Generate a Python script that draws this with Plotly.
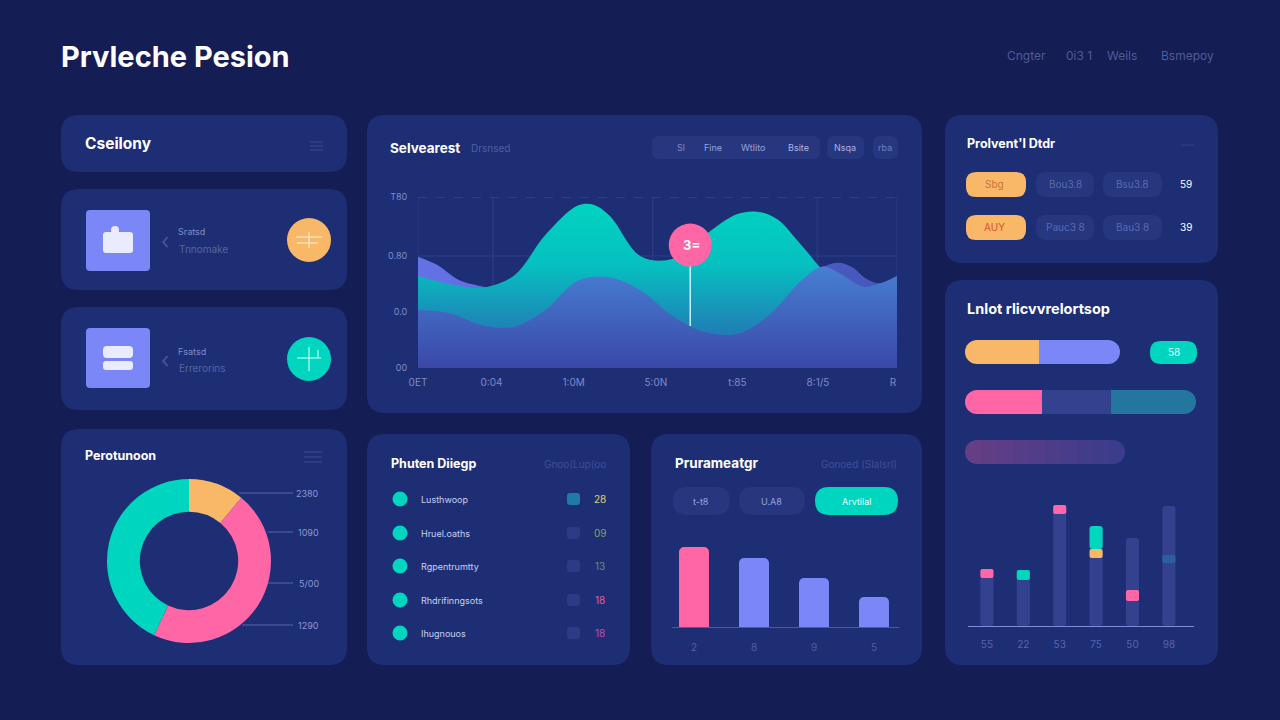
import plotly.graph_objects as go

W = 1280
H = 720

# main area chart
area_t = [0, 0.4, 0.8, 1.2, 1.6, 2.0, 2.2, 2.4, 2.8, 3.2, 3.6, 4.0, 4.25, 4.5, 4.8, 5.2, 5.6, 6]
teal_vals = [53.8, 49, 47, 54, 78, 95, 95.5, 89, 65, 64, 78, 90, 91.4, 87, 72, 51, 40, 34]
front_t = [0, 0.4, 0.8, 1.2, 1.6, 2.0, 2.4, 2.8, 3.2, 3.6, 4.0, 4.4, 4.8, 5.07, 5.3, 5.57, 5.79, 6]
front_vals = [33.9, 32, 25, 24, 34, 51, 53, 45, 30, 21, 20, 31, 51, 59.3, 54.8, 47.6, 49.5, 53.8]
back_t = [0, 0.243, 0.51, 0.87, 1.5, 3, 4.5, 4.94, 5.25, 5.43, 5.61, 5.79, 6]
back_vals = [65.1, 60.2, 51.5, 47, 40, 40, 45, 56.3, 61.6, 59.2, 52.4, 49.5, 53.8]
pin_t = 3.41
pin_top = 71.9
pin_bottom = 24.6
area_xticks = [0, 0.92, 1.95, 2.98, 4, 5.01, 5.95]
area_xlabels = ["0ET", "0:04", "1:0M", "5:0N", "t:85", "8:1/5", "R"]
area_yticks = [0, 32.7, 65.5, 100]
area_ylabels = ["00", "0.0", "0.80", "T80"]
area_grid_t = [0, 0.94, 2.94, 5, 6]

# donut
donut_labels = ["Amber", "Pink", "Teal"]
donut_vals = [11, 46, 43]
donut_notes = ["2380", "1090", "5/00", "1290"]

# parameter bars
param_x = [0, 1, 2, 3]
param_vals = [80, 69, 49, 30]
param_labels = ["2", "8", "9", "5"]

# lower right bars
track_x = [0, 1, 2, 3, 4, 5]
track_vals = [57, 56, 121, 100, 88, 120]
chip_base = [48, 46, 112, 68, 25, 63]
chip_vals = [9, 10, 9, 9, 11, 8]
chip2_x = [3]
chip2_base = [77]
chip2_vals = [23]
track_labels = ["55", "22", "53", "75", "50", "98"]

# stacked pills
pill_rows = [12, 62, 112]
pill_segments = [[74, 81], [77, 69, 85], [16, 16, 16, 16, 16, 16, 16, 16, 16, 16]]

# list panel
list_names = ["Lusthwoop", "Hruel.oaths", "Rgpentrumtty", "Rhdrifinngsots", "Ihugnouos"]
list_nums = ["28", "09", "13", "18", "18"]

BG = "#141d54"
PANEL = "#1e2e75"
CHIP = "#27377f"
TEAL = "#00d5c0"
PINK = "#ff66a5"
AMBER = "#f9b868"
PERI = "#7c87f7"
NAVY = "#33418f"
FAINT = "#6f7cc0"
DIM = "#505f9f"
FONT = "Inter"


def fx(x):
    return x / W


def fy(y):
    return 1 - y / H


def rounded(x0, y0, x1, y1, r, color, line=None):
    p = "M %f %f " % (fx(x0 + r), fy(y0))
    p += "L %f %f Q %f %f %f %f " % (fx(x1 - r), fy(y0), fx(x1), fy(y0), fx(x1), fy(y0 + r))
    p += "L %f %f Q %f %f %f %f " % (fx(x1), fy(y1 - r), fx(x1), fy(y1), fx(x1 - r), fy(y1))
    p += "L %f %f Q %f %f %f %f " % (fx(x0 + r), fy(y1), fx(x0), fy(y1), fx(x0), fy(y1 - r))
    p += "L %f %f Q %f %f %f %f Z" % (fx(x0), fy(y0 + r), fx(x0), fy(y0), fx(x0 + r), fy(y0))
    return dict(type="path", xref="paper", yref="paper", path=p, fillcolor=color,
                line=dict(width=0), layer="below")


def circle(cx, cy, r, color):
    return dict(type="circle", xref="paper", yref="paper", x0=fx(cx - r), x1=fx(cx + r),
                y0=fy(cy + r), y1=fy(cy - r), fillcolor=color, line=dict(width=0), layer="below")


def seg(x0, y0, x1, y1, color, width=1):
    return dict(type="line", xref="paper", yref="paper", x0=fx(x0), x1=fx(x1), y0=fy(y0), y1=fy(y1),
                line=dict(color=color, width=width), layer="below")


def txt(x, y, s, size=10, color=FAINT, anchor="left", bold=False):
    # annotations carry a small padding, take it back so x is the real text edge
    if anchor == "left":
        x -= 2
    elif anchor == "right":
        x += 2
    return dict(xref="paper", yref="paper", x=fx(x), y=fy(y), text="<b>%s</b>" % s if bold else s,
                showarrow=False, xanchor=anchor, yanchor="middle",
                font=dict(family=FONT, size=size, color=color))


shapes = []
notes = []

# panels
for box in [(61, 115, 347, 172), (61, 189, 347, 290), (61, 307, 347, 410), (61, 429, 347, 665),
            (367, 115, 922, 413), (367, 434, 630, 665), (651, 434, 922, 665),
            (945, 115, 1218, 263), (945, 280, 1218, 665)]:
    shapes.append(rounded(*box, 18, PANEL))

# header
notes.append(txt(61, 57, "Prvleche Pesion", 29, "#ffffff", bold=True))
for x, s in [(1007, "Cngter"), (1066, "0i3 1"), (1107, "Weils"), (1161, "Bsmepoy")]:
    notes.append(txt(x, 56, s, 12, "#4f5c96"))

# left column
notes.append(txt(85, 144, "Cseilony", 15.5, "#ffffff", bold=True))
shapes.append(seg(310, 142, 323, 142, "#3a4a94"))
shapes.append(seg(310, 146, 323, 146, "#3a4a94"))
shapes.append(seg(310, 150, 323, 150, "#3a4a94"))

shapes.append(rounded(86, 210, 150, 271, 4, PERI))
shapes.append(rounded(103, 232, 133, 253, 3, "#e9ecff"))
shapes.append(circle(115, 230, 4, "#e9ecff"))
shapes.append(circle(309, 240, 22, AMBER))
shapes.append(seg(296, 237, 322, 237, "#fff3dd"))
shapes.append(seg(297, 243, 318, 243, "#fff3dd"))
shapes.append(seg(309, 232, 309, 248, "#fff3dd"))
notes.append(txt(178, 232, "Sratsd", 9, "#7f8bc8"))
notes.append(txt(179, 249, "Tnnomake", 10, "#56659f"))
notes.append(txt(161, 241, "&#8249;", 22, "#44539c"))

shapes.append(rounded(86, 328, 150, 388, 4, PERI))
shapes.append(rounded(103, 346, 133, 358, 4, "#e9ecff"))
shapes.append(rounded(103, 361, 133, 370, 3, "#e9ecff"))
shapes.append(circle(309, 359, 22, TEAL))
shapes.append(seg(297, 358, 321, 358, "#e6fffb"))
shapes.append(seg(309, 347, 309, 371, "#e6fffb"))
shapes.append(seg(318, 350, 318, 358, "#e6fffb"))
notes.append(txt(178, 351, "Fsatsd", 9, "#7f8bc8"))
notes.append(txt(179, 368, "Errerorins", 10, "#56659f"))
notes.append(txt(161, 360, "&#8249;", 22, "#44539c"))

# donut panel
notes.append(txt(85, 455, "Perotunoon", 12.5, "#ffffff", bold=True))
for yy in [452, 457, 462]:
    shapes.append(seg(304, yy, 322, yy, "#33428c", 1.5))
for (x0, yy), s in zip([(239, 493), (268, 532), (268, 583), (242, 625)], donut_notes):
    shapes.append(seg(x0, yy, 293, yy, "#5664ae"))
    notes.append(txt(319, yy, s, 9, "#8b97d4", "right"))

# main panel head
notes.append(txt(390, 148, "Selvearest", 13.5, "#ffffff", bold=True))
notes.append(txt(471, 148, "Drsnsed", 10, DIM))
shapes.append(rounded(652, 136, 820, 159, 7, CHIP))
shapes.append(rounded(827, 136, 864, 159, 7, CHIP))
shapes.append(rounded(873, 136, 898, 159, 7, CHIP))
for x, s, c in [(681, "Sl", "#7f8bc8"), (713, "Fine", "#98a3dc"), (753, "Wtlito", "#98a3dc"),
                (798, "Bsite", "#aab3e6"), (845, "Nsqa", "#aab3e6"), (885, "rba", "#6f7cc0")]:
    notes.append(txt(x, 148, s, 9, c, "center"))
notes.append(txt(691, 245, "3=", 13, "#ffffff", "center", True))

# list panel
notes.append(txt(391, 463, "Phuten Diiegp", 12.5, "#ffffff", bold=True))
notes.append(txt(606, 464, "Gnoo(Lup(oo", 10, "#3f4f96", "right"))
num_colors = ["#e8cf70", "#8d9a62", "#5f8f78", "#e0609a", "#c050a8"]
for i, yy in enumerate([499, 533, 566, 600, 633]):
    shapes.append(circle(400, yy, 7.5, TEAL))
    shapes.append(rounded(567, yy - 6, 580, yy + 6, 3, "#1f7aa5" if i == 0 else "#2b3b85"))
    notes.append(txt(421, yy, list_names[i], 9, "#c9d0f2"))
    notes.append(txt(600, yy, list_nums[i], 10, num_colors[i], "center"))

# parameter panel
notes.append(txt(675, 463, "Prurameatgr", 13.5, "#ffffff", bold=True))
notes.append(txt(897, 464, "Gonoed (Slalsrl)", 10, "#3f4f96", "right"))
shapes.append(rounded(673, 487, 730, 515, 14, CHIP))
shapes.append(rounded(739, 487, 805, 515, 14, CHIP))
shapes.append(rounded(815, 487, 898, 515, 14, TEAL))
notes.append(txt(701, 501, "t-t8", 9, "#98a3dc", "center"))
notes.append(txt(771, 501, "U.A8", 9, "#98a3dc", "center"))
notes.append(txt(856, 501, "Arvtilal", 9, "#e8fffb", "center"))

# right top panel
notes.append(txt(967, 144, "Prolvent'l Dtdr", 12.5, "#ffffff", bold=True))
shapes.append(seg(1181, 145, 1194, 145, "#33428c"))
for yy, first, fc, a, b, val in [(184, "Sbg", "#c2763e", "Bou3.8", "Bsu3.8", "59"),
                                 (227, "AUY", "#d9502e", "Pauc3 8", "Bau3 8", "39")]:
    shapes.append(rounded(966, yy - 12, 1026, yy + 13, 10, AMBER))
    shapes.append(rounded(1036, yy - 12, 1094, yy + 13, 10, CHIP))
    shapes.append(rounded(1103, yy - 12, 1162, yy + 13, 10, CHIP))
    notes.append(txt(994, yy, first, 10, fc, "center"))
    notes.append(txt(1065, yy, a, 10, "#5a69ae", "center"))
    notes.append(txt(1132, yy, b, 10, "#5a69ae", "center"))
    notes.append(txt(1186, yy, val, 10, "#ffffff", "center"))

# right lower panel
notes.append(txt(967, 308, "Lnlot rlicvvrelortsop", 14.5, "#ffffff", bold=True))
shapes.append(rounded(1150, 341, 1197, 364, 11, TEAL))
notes.append(txt(1174, 352, "58", 10, "#e8fffb", "center"))

# grid of main chart
for t in area_grid_t:
    shapes.append(dict(type="line", xref="x", yref="y", x0=t, x1=t, y0=0, y1=100,
                       line=dict(color="#2f3e88", width=1), layer="below"))
shapes.append(dict(type="line", xref="x", yref="y", x0=0, x1=6, y0=100, y1=100,
                   line=dict(color="#3f4f9c", width=1, dash="dash"), layer="below"))
shapes.append(dict(type="line", xref="x", yref="y", x0=0, x1=6, y0=65.5, y1=65.5,
                   line=dict(color="#2f3e88", width=1), layer="below"))

fig = go.Figure()

fig.add_trace(go.Scatter(x=back_t, y=back_vals, mode="lines", fill="tozeroy",
                         line=dict(shape="spline", smoothing=1, width=0),
                         fillgradient=dict(type="horizontal", colorscale=[[0, "#6572e6"], [1, "#4655bb"]]),
                         hoverinfo="skip", xaxis="x", yaxis="y"))
fig.add_trace(go.Scatter(x=area_t, y=teal_vals, mode="lines", fill="tozeroy",
                         line=dict(shape="spline", smoothing=1, width=0),
                         fillgradient=dict(type="vertical", start=0, stop=100,
                                           colorscale=[[0, "#2a5fb0"], [0.3, "#1a8db8"], [0.6, "#06c0c0"], [1, TEAL]]),
                         hoverinfo="skip", xaxis="x", yaxis="y"))
fig.add_trace(go.Scatter(x=front_t, y=front_vals, mode="lines", fill="tozeroy",
                         line=dict(shape="spline", smoothing=1, width=0),
                         fillgradient=dict(type="vertical", start=0, stop=60,
                                           colorscale=[[0, "#3a48a8"], [1, "#4780d2"]]),
                         hoverinfo="skip", xaxis="x", yaxis="y"))
fig.add_trace(go.Scatter(x=[pin_t, pin_t], y=[pin_top, pin_bottom], mode="lines",
                         line=dict(color="#c8f2f6", width=1.5), hoverinfo="skip", xaxis="x", yaxis="y"))
fig.add_trace(go.Scatter(x=[pin_t], y=[pin_top], mode="markers",
                         marker=dict(size=43, color=PINK), hoverinfo="skip", xaxis="x", yaxis="y"))

fig.add_trace(go.Pie(labels=donut_labels, values=donut_vals, hole=0.6, sort=False, direction="clockwise",
                     rotation=0, textinfo="none", hoverinfo="skip",
                     marker=dict(colors=[AMBER, PINK, TEAL], line=dict(width=0)),
                     domain=dict(x=[fx(107), fx(271)], y=[fy(643), fy(479)])))

fig.add_trace(go.Bar(x=param_x, y=param_vals, width=0.5, hoverinfo="skip",
                     marker=dict(color=[PINK, PERI, PERI, PERI], cornerradius=5, line=dict(width=0)),
                     xaxis="x2", yaxis="y2"))

fig.add_trace(go.Bar(x=track_x, y=track_vals, width=0.36, base=0, hoverinfo="skip",
                     marker=dict(color=NAVY, cornerradius=3, line=dict(width=0)), xaxis="x3", yaxis="y3"))
fig.add_trace(go.Bar(x=track_x, y=chip_vals, base=chip_base, width=0.36, hoverinfo="skip",
                     marker=dict(color=[PINK, TEAL, PINK, AMBER, PINK, "#2b5f9f"], cornerradius=2, line=dict(width=0)),
                     xaxis="x3", yaxis="y3"))
fig.add_trace(go.Bar(x=chip2_x, y=chip2_vals, base=chip2_base, width=0.36, hoverinfo="skip",
                     marker=dict(color=TEAL, cornerradius=3, line=dict(width=0)), xaxis="x3", yaxis="y3"))

pill_colors = [[AMBER, PERI], [PINK, NAVY, "#24769f"],
               ["#653e85", "#603e86", "#5b3e87", "#563d87", "#513d88", "#4c3d89", "#473d8a", "#433c8b", "#3f3c8b", "#3b3c8c"]]
for row, widths, colors in zip(pill_rows, pill_segments, pill_colors):
    total = sum(widths)
    # round end goes underneath, the square pieces sit on top of it
    fig.add_trace(go.Bar(y=[row], x=[24], base=[total - 24], orientation="h", width=24, hoverinfo="skip",
                         marker=dict(color=colors[-1], cornerradius=12, line=dict(width=0)), xaxis="x4", yaxis="y4"))
    fig.add_trace(go.Bar(y=[row], x=[24], base=[0], orientation="h", width=24, hoverinfo="skip",
                         marker=dict(color=colors[0], cornerradius=12, line=dict(width=0)), xaxis="x4", yaxis="y4"))
    start = 0
    for w, c in zip(widths, colors):
        a = max(start, 12)
        b = min(start + w, total - 12)
        fig.add_trace(go.Bar(y=[row], x=[b - a], base=[a], orientation="h", width=24, hoverinfo="skip",
                             marker=dict(color=c, line=dict(width=0)), xaxis="x4", yaxis="y4"))
        start += w

fig.update_layout(
    width=W,
    height=H,
    margin=dict(l=0, r=0, t=0, b=0),
    paper_bgcolor=BG,
    plot_bgcolor="rgba(0,0,0,0)",
    showlegend=False,
    barmode="overlay",
    shapes=shapes,
    annotations=notes,
    font=dict(family=FONT, color=FAINT, size=10),
    xaxis=dict(domain=[fx(418), fx(897)], range=[0, 6], tickvals=area_xticks, ticktext=area_xlabels,
               showgrid=False, zeroline=False, ticks="outside", ticklen=5, tickcolor="rgba(0,0,0,0)",
               tickfont=dict(size=10, color="#7f8bc8"), anchor="y", automargin=False),
    yaxis=dict(domain=[fy(368), fy(197)], range=[0, 100], tickvals=area_yticks, ticktext=area_ylabels,
               showgrid=False, zeroline=False, ticks="outside", ticklen=8, tickcolor="rgba(0,0,0,0)",
               tickfont=dict(size=9, color="#7f8bc8"), anchor="x", automargin=False),
    xaxis2=dict(domain=[fx(672), fx(899)], range=[-0.367, 3.417], tickvals=param_x, ticktext=param_labels,
                showgrid=False, zeroline=False, showline=True, linecolor="#4a59a8", ticks="outside", ticklen=11,
                tickcolor="rgba(0,0,0,0)", tickfont=dict(size=10, color="#4e5da6"), anchor="y2", automargin=False),
    yaxis2=dict(domain=[fy(627), fy(540)], range=[0, 87], visible=False, anchor="x2", automargin=False),
    xaxis3=dict(domain=[fx(968), fx(1194)], range=[-0.52, 5.69], tickvals=track_x, ticktext=track_labels,
                showgrid=False, zeroline=False, showline=True, linecolor="#7f8cd8", ticks="outside", ticklen=9,
                tickcolor="rgba(0,0,0,0)", tickfont=dict(size=10, color="#5664ae"), anchor="y3", automargin=False),
    yaxis3=dict(domain=[fy(626), fy(500)], range=[0, 126], visible=False, anchor="x3", automargin=False),
    xaxis4=dict(domain=[fx(965), fx(1196)], range=[0, 231], visible=False, anchor="y4", automargin=False),
    yaxis4=dict(domain=[fy(464), fy(340)], range=[124, 0], visible=False, anchor="x4", automargin=False),
)

fig.write_html("out.html", config=dict(displayModeBar=False),
               post_script="document.body.style.margin='0';document.body.style.background='%s';" % BG)
